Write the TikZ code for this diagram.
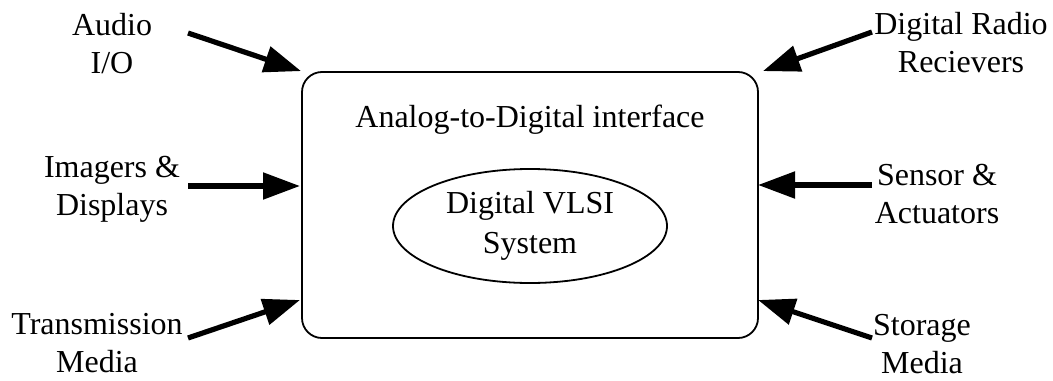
\documentclass[tikz,border=0pt]{standalone}
\usepackage{fontspec}
\setmainfont{Liberation Serif}
\usetikzlibrary{arrows.meta,shapes.geometric}
\begin{document}
\begin{tikzpicture}[x=0.5pt,y=-0.5pt,
  lbl/.style={font=\fontsize{16}{19}\selectfont, align=center, inner sep=0pt, anchor=base},
  feed/.style={line width=2.6pt, -{Triangle[length=18.5pt,width=13pt]}},
  frame/.style={draw, line width=0.9pt, rounded corners=10pt, minimum width=228pt, minimum height=133pt, inner sep=0pt},
  core/.style={draw, ellipse, line width=0.9pt, minimum width=137pt, minimum height=57pt, inner sep=0pt,
    font=\fontsize{16}{20}\selectfont, align=center},
]
\useasboundingbox (0,0) rectangle (1053,380);

% central block
\node[frame] (box) at (530,205) {};
\node[lbl] (title) at (530,127) {Analog-to-Digital interface};
\node[core] (vlsi) at (530,226) {Digital VLSI\\System};

% surrounding labels (anchored at the baseline of their last line)
\node[lbl] (audio)  at (112,73)  {Audio\\I/O};
\node[lbl] (radio)  at (961,72)  {Digital Radio\\Recievers};
\node[lbl] (imager) at (112,215) {Imagers \&\\Displays};
\node[lbl] (sensor) at (937,223) {Sensor \&\\Actuators};
\node[lbl] (trans)  at (97,372)  {Transmission\\Media};
\node[lbl] (store)  at (922,373) {Storage\\Media};

% arrow ends
\coordinate (audioT)  at (188,33);
\coordinate (radioT)  at (872,32);
\coordinate (imagerT) at (188,186);
\coordinate (sensorT) at (872,185);
\coordinate (transT)  at (188,338);
\coordinate (storeT)  at (872,338);
\coordinate (audioH)  at (box.north west);
\coordinate (radioH)  at ([xshift=2pt]box.north east);
\coordinate (imagerH) at (300,186);
\coordinate (sensorH) at (758,185);
\coordinate (transH)  at (300,300);
\coordinate (storeH)  at (758,300);

% interfaces feeding the block
\draw[feed] (audioT)  -- (audioH);
\draw[feed] (radioT)  -- (radioH);
\draw[feed] (imagerT) -- (imagerH);
\draw[feed] (sensorT) -- (sensorH);
\draw[feed] (transT)  -- (transH);
\draw[feed] (storeT)  -- (storeH);
\end{tikzpicture}
\end{document}
